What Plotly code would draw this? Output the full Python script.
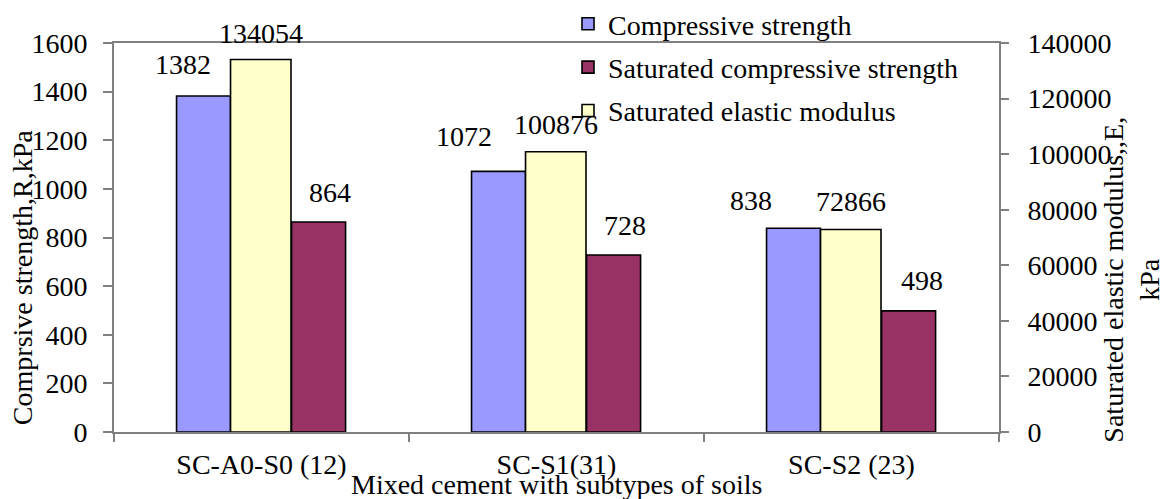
import plotly.graph_objects as go
from plotly.subplots import make_subplots

# Test groups of cement-stabilised soils
categories = ["SC-A0-S0 (12)", "SC-S1(31)", "SC-S2 (23)"]

# Strength values (kPa) on the left axis
compressive_strength = [1382, 1072, 838]
saturated_compressive_strength = [864, 728, 498]

# Elastic modulus values (kPa) on the right axis
saturated_elastic_modulus = [134054, 100876, 72866]

left_ticks = [0, 200, 400, 600, 800, 1000, 1200, 1400, 1600]
right_ticks = [0, 20000, 40000, 60000, 80000, 100000, 120000, 140000]

FONT = "Liberation Serif"
FS = 28
AXIS_GREY = "#808080"

# bar placement inside each category slot (category units)
geom = {
    "blue": dict(offset=-0.288, width=0.183),
    "yellow": dict(offset=-0.105, width=0.205),
    "maroon": dict(offset=0.102, width=0.183),
}

fig = make_subplots(specs=[[{"secondary_y": True}]])

series = [
    ("Compressive strength", compressive_strength, "#9999FF", "blue", False),
    ("Saturated compressive strength", saturated_compressive_strength, "#993366", "maroon", False),
    ("Saturated elastic modulus", saturated_elastic_modulus, "#FFFFCC", "yellow", True),
]

for name, vals, color, key, sec in series:
    fig.add_trace(
        go.Bar(
            x=categories,
            y=vals,
            name=name,
            legendgroup=name,
            marker=dict(color=color, line=dict(color="black", width=1.6)),
            offset=geom[key]["offset"],
            width=geom[key]["width"],
        ),
        secondary_y=sec,
    )

# value labels: pixel nudges (dx, dy) relative to each bar top centre
label_nudges = {
    "blue": [(-21, 32), (-35, 35), (-43, 28)],
    "yellow": [(0, 26), (0, 27), (0, 28)],
    "maroon": [(11, 29), (11, 30), (13, 30)],
}

annotations = []
for name, vals, color, key, sec in series:
    g = geom[key]
    for i, v in enumerate(vals):
        dx, dy = label_nudges[key][i]
        annotations.append(
            dict(
                x=i + g["offset"] + g["width"] / 2,
                y=v,
                xref="x",
                yref="y2" if sec else "y",
                text=str(v),
                showarrow=False,
                xshift=dx,
                yshift=dy,
                xanchor="center",
                yanchor="middle",
                font=dict(family=FONT, size=FS, color="black"),
            )
        )

# axis titles
annotations += [
    dict(
        text="Comprsive strength,R,kPa",
        xref="paper", yref="paper", x=-0.104, y=0.398,
        textangle=-90, showarrow=False, xanchor="center", yanchor="middle",
        font=dict(family=FONT, size=FS, color="black"),
    ),
    dict(
        text="Saturated elastic modulus,,E,<br>kPa",
        xref="paper", yref="paper", x=1.150, y=0.391,
        textangle=-90, showarrow=False, xanchor="center", yanchor="middle",
        font=dict(family=FONT, size=FS, color="black"),
    ),
    dict(
        text="Mixed cement with subtypes of soils",
        xref="paper", yref="paper", x=0.5, y=-0.136,
        showarrow=False, xanchor="center", yanchor="middle",
        font=dict(family=FONT, size=FS, color="black"),
    ),
]

fig.update_layout(
    width=1166,
    height=499,
    margin=dict(l=114, r=167, t=43, b=67, autoexpand=False),
    paper_bgcolor="white",
    plot_bgcolor="white",
    barmode="overlay",
    font=dict(family=FONT, size=FS, color="black"),
    showlegend=True,
    legend=dict(
        x=0.513, y=1.113, xanchor="left", yanchor="top",
        bgcolor="rgba(0,0,0,0)",
        font=dict(family=FONT, size=FS, color="black"),
        tracegroupgap=4,
        itemwidth=30,
    ),
    annotations=annotations,
)

fig.update_xaxes(
    type="category",
    range=[-0.5, 2.5],
    domain=[0, 1],
    showline=True, linecolor=AXIS_GREY, linewidth=2, mirror=True,
    ticks="outside", ticklen=8, tickcolor=AXIS_GREY, tickwidth=1.5,
    tickson="boundaries",
    ticklabelstandoff=6,
    showgrid=False, zeroline=False,
    tickfont=dict(family=FONT, size=FS, color="black"),
)

fig.update_yaxes(
    range=[0, 1600], tickvals=left_ticks, tickformat="d",
    showline=True, linecolor=AXIS_GREY, linewidth=2,
    ticks="outside", ticklen=9, tickcolor=AXIS_GREY, tickwidth=1.5,
    ticklabelstandoff=10,
    showgrid=False, zeroline=False,
    tickfont=dict(family=FONT, size=FS, color="black"),
    secondary_y=False,
)

fig.update_yaxes(
    range=[0, 140000], tickvals=right_ticks, tickformat="d",
    showline=True, linecolor=AXIS_GREY, linewidth=2,
    ticks="outside", ticklen=8, tickcolor=AXIS_GREY, tickwidth=1.5,
    ticklabelstandoff=13,
    showgrid=False, zeroline=False,
    tickfont=dict(family=FONT, size=FS, color="black"),
    secondary_y=True,
)

fig.write_html("out.html")
